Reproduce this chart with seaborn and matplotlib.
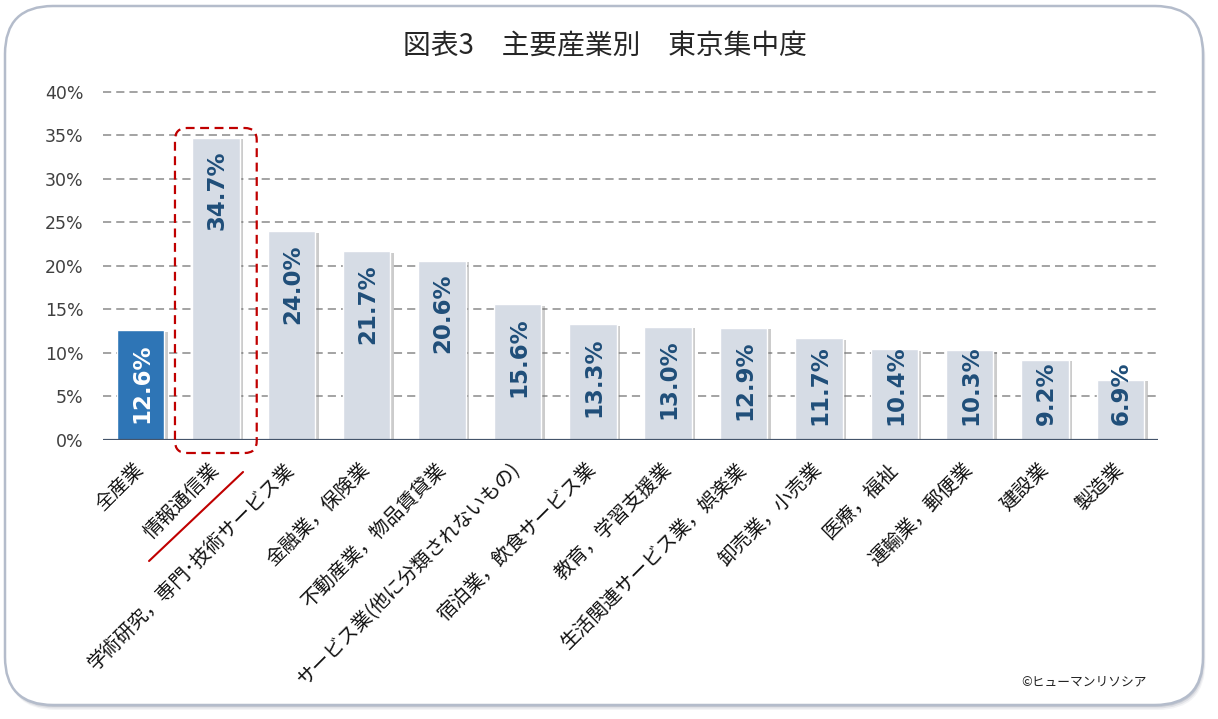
import matplotlib
matplotlib.use('Agg')
import matplotlib.pyplot as plt
import matplotlib.patheffects as pe
from matplotlib.patches import FancyBboxPatch
from matplotlib.lines import Line2D
from matplotlib.transforms import IdentityTransform
import seaborn as sns

# data
industries = [
    '全産業', '情報通信業', '学術研究，専門･技術サービス業', '金融業，保険業',
    '不動産業，物品賃貸業', 'サービス業(他に分類されないもの)', '宿泊業，飲食サービス業',
    '教育，学習支援業', '生活関連サービス業，娯楽業', '卸売業，小売業', '医療，福祉',
    '運輸業，郵便業', '建設業', '製造業',
]
share = [12.6, 34.7, 24.0, 21.7, 20.6, 15.6, 13.3, 13.0, 12.9, 11.7, 10.4, 10.3, 9.2, 6.9]
y_ticks = [0, 5, 10, 15, 20, 25, 30, 35, 40]
highlight = 1  # 情報通信業

title = '図表3\u3000主要産業別\u3000東京集中度'
credit = '©ヒューマンリソシア'

sns.set_theme(style="white")
plt.rcParams['font.family'] = ['Noto Sans CJK JP', 'DejaVu Sans']

BLUE = '#2E75B6'
LIGHT = '#D6DCE5'
DARK_BLUE = '#1F4E79'

fig = plt.figure(figsize=(12.18, 7.19), dpi=100, facecolor='white')

# rounded frame with a soft shadow (pixel coords), kept behind the axes
for k, a in [(5, 0.10), (3.5, 0.18), (2, 0.30)]:
    fig.patches.append(FancyBboxPatch((5 + k * 0.5, 14 - k), 1198, 699,
                                      boxstyle="round,pad=0,rounding_size=48",
                                      transform=IdentityTransform(), zorder=-3,
                                      facecolor='#8A93A3', edgecolor='none', alpha=a))
fig.patches.append(FancyBboxPatch((5, 14), 1198, 699,
                                  boxstyle="round,pad=0,rounding_size=48",
                                  transform=IdentityTransform(), zorder=-2,
                                  facecolor='white', edgecolor='#B4BCCB', linewidth=1.8))

ax = fig.add_axes([103 / 1218, 279 / 719, 1055 / 1218, 349 / 719])
ax.set_facecolor('none')

colors = [BLUE] + [LIGHT] * (len(share) - 1)
sns.barplot(x=industries, y=share, hue=industries, palette=colors, legend=False,
            saturation=1, width=0.63, ax=ax, zorder=3)

for p in ax.patches:
    p.set_path_effects([pe.SimplePatchShadow(offset=(2.5, -1), shadow_rgbFace='#6f6f6f', alpha=0.35),
                        pe.Normal()])

ax.set_xlim(-0.5, len(share) - 0.5)
ax.set_ylim(0, 40.1)
ax.set_yticks(y_ticks)
ax.set_yticklabels([f'{t}%' for t in y_ticks], family='DejaVu Sans', fontsize=12.5, color='#404040')
ax.tick_params(axis='y', length=0, pad=14)

for t in y_ticks[1:]:
    ax.axhline(t, color='#A3A3A3', linewidth=1.4, dashes=(4.2, 2.6), zorder=1)
ax.axhline(0, color='#44546A', linewidth=2.3, zorder=4)

for s in ax.spines.values():
    s.set_visible(False)

ax.set_xticks(range(len(industries)))
ax.set_xticklabels(industries, rotation=45, ha='right', va='center', rotation_mode='anchor',
                   fontsize=14, color='#111111')
ax.tick_params(axis='x', length=0, pad=19)
ax.set_xlabel('')
ax.set_ylabel('')

fig.text(0.497, 0.935, title, ha='center', va='center', fontsize=20, color='#262626')
fig.text(1147 / 1218, 1 - 682 / 719, credit, ha='right', va='center', fontsize=9.2, color='#222222')

# value labels inside the bars: 13 px under the bar top, but never closer than 15 px to the axis
labels = []
for i, v in enumerate(share):
    labels.append(ax.text(i + 0.015, v, f'{v:.1f}%', rotation=90, ha='center', va='bottom',
                          family='DejaVu Sans', fontweight='bold', fontsize=16.5,
                          color='white' if i == 0 else DARK_BLUE, zorder=5))
fig.canvas.draw()
renderer = fig.canvas.get_renderer()
_, axis_px = ax.transData.transform((0, 0))
inv = ax.transData.inverted()
for i, (t, v) in enumerate(zip(labels, share)):
    length = t.get_window_extent(renderer).height
    _, top_px = ax.transData.transform((i, v))
    bottom_px = max(top_px - 13 - length, axis_px + 15)
    t.set_y(inv.transform((0, bottom_px))[1])

# highlight box and underline for 情報通信業 (pixel coords from the data transform)
bx0, by0 = ax.transData.transform((highlight - 0.545, 0))
bx1, by1 = ax.transData.transform((highlight + 0.54, share[highlight]))
fig.patches.append(FancyBboxPatch((bx0, by0 - 13), bx1 - bx0, (by1 + 10) - (by0 - 13),
                                  boxstyle="round,pad=0,rounding_size=12",
                                  transform=IdentityTransform(), facecolor='none',
                                  edgecolor='#C00000', linewidth=1.6,
                                  linestyle=(0, (4, 2.5)), zorder=6))
cx, cy = ax.transData.transform((highlight, 0))
fig.lines.append(Line2D([cx - 67, cx + 27], [cy - 121, cy - 32], transform=IdentityTransform(),
                        color='#C00000', linewidth=1.5, zorder=6))

fig.savefig('out.png', dpi=100)
